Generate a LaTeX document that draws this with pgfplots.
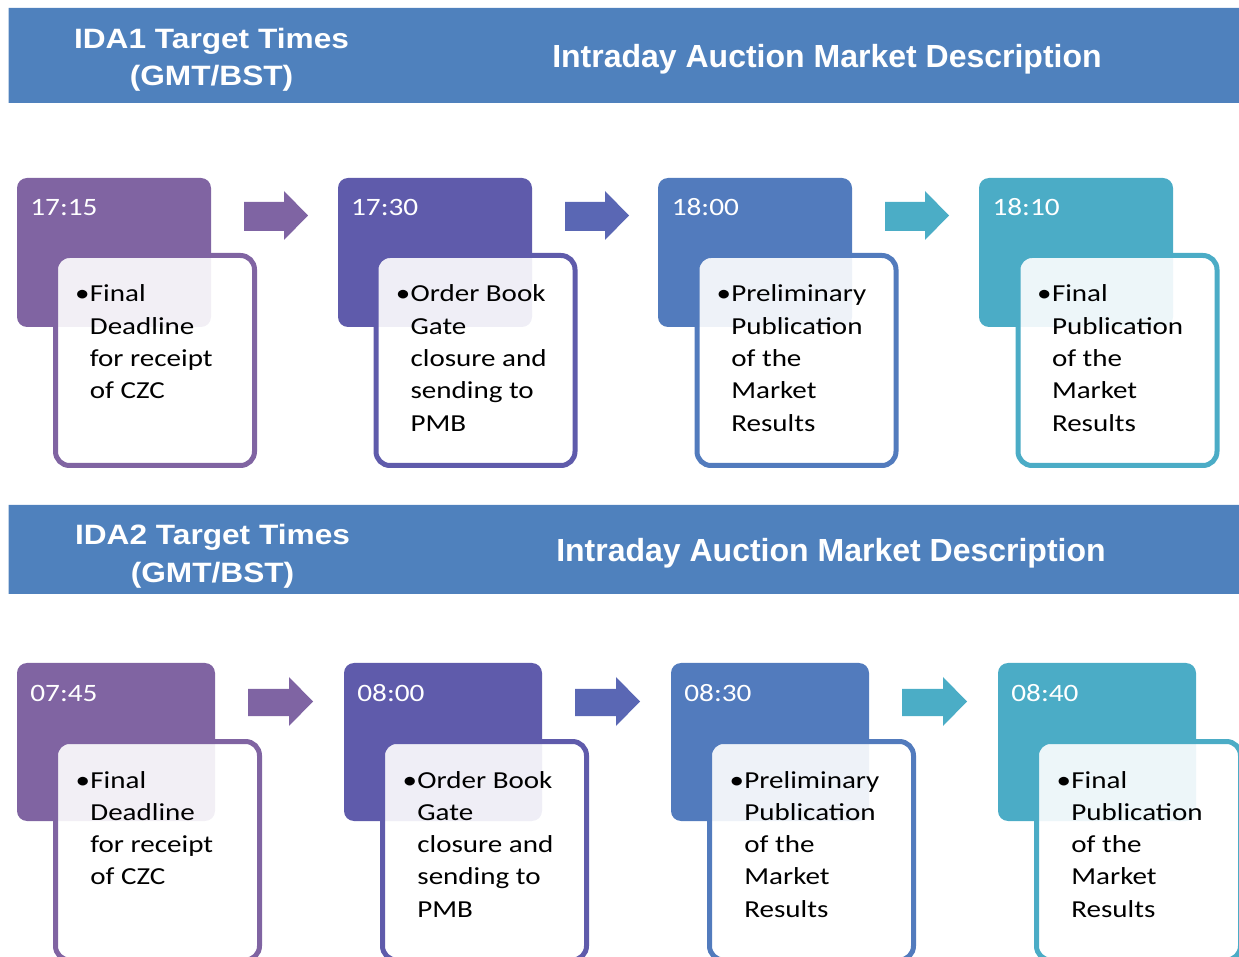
\documentclass[border=0pt]{standalone}
\usepackage{pgfplots}
\pgfplotsset{compat=1.18}
\usepackage{fontspec}
\newfontfamily\bodyf{Carlito}[FakeStretch=1.19]
\newfontfamily\timef{Carlito}[FakeStretch=1.17]
\newfontfamily\headf{Liberation Sans}[FakeStretch=1.13]
\newfontfamily\headg{Liberation Sans}
\newcommand\bodyfont{\bodyf\fontsize{12.2}{16.15}\selectfont}
\newcommand\timefont{\timef\fontsize{12.5}{15}\selectfont}
\newcommand\headleft{\headf\bfseries\fontsize{14}{17}\selectfont}
\newcommand\headright{\headg\bfseries\fontsize{16}{18}\selectfont}
\definecolor{hdr}{HTML}{4F81BD}
\definecolor{cA}{HTML}{8064A2}
\definecolor{cB}{HTML}{5F5BAB}
\definecolor{cC}{HTML}{527BBD}
\definecolor{cD}{HTML}{4BACC6}
\definecolor{aA}{HTML}{7F64A3}
\definecolor{aB}{HTML}{5A67B4}
\definecolor{aC}{HTML}{4BADC6}
\newcommand\btext[3]{\node[anchor=base west,inner sep=0pt,font=\bodyfont] at (axis cs:#1,#2) {\begin{tabular}[t]{@{}l@{}}#3\end{tabular}};}
\newcommand\bbul[2]{\node[anchor=base east,inner sep=0pt,font=\bodyfont] at (axis cs:#1,#2) {\textbullet};}
\newcommand\ttext[3]{\node[anchor=base west,inner sep=0pt,font=\timefont,text=white] at (axis cs:#1,#2) {#3};}
\begin{document}
\begin{tikzpicture}
\begin{axis}[
  scale only axis, width=619.5pt, height=478.5pt,
  xmin=0, xmax=1239, ymin=0, ymax=957, y dir=reverse,
  hide axis, clip=true, no markers,
]
% header bars
\addplot[fill=hdr, draw=none] coordinates {(8.5,8) (1239,8) (1239,103) (8.5,103) (8.5,8)};
\addplot[fill=hdr, draw=none] coordinates {(8.5,505) (1239,505) (1239,594) (8.5,594) (8.5,505)};
% dark boxes row 1
\addplot[fill=cA, draw=none, rounded corners=5pt] coordinates {(37,178) (211,178) (211,327) (17,327) (17,178) (37,178)};
\addplot[fill=cB, draw=none, rounded corners=5pt] coordinates {(358,178) (532,178) (532,327) (338,327) (338,178) (358,178)};
\addplot[fill=cC, draw=none, rounded corners=5pt] coordinates {(678,178) (852,178) (852,327) (658,327) (658,178) (678,178)};
\addplot[fill=cD, draw=none, rounded corners=5pt] coordinates {(999,178) (1173,178) (1173,327) (979,327) (979,178) (999,178)};
% dark boxes row 2
\addplot[fill=cA, draw=none, rounded corners=5pt] coordinates {(37,663) (215,663) (215,821) (17,821) (17,663) (37,663)};
\addplot[fill=cB, draw=none, rounded corners=5pt] coordinates {(364,663) (542,663) (542,821) (344,821) (344,663) (364,663)};
\addplot[fill=cC, draw=none, rounded corners=5pt] coordinates {(691,663) (869,663) (869,821) (671,821) (671,663) (691,663)};
\addplot[fill=cD, draw=none, rounded corners=5pt] coordinates {(1018,663) (1196,663) (1196,821) (998,821) (998,663) (1018,663)};
% arrows row 1
\addplot[fill=aA, draw=none] coordinates {(244,202) (284,202) (284,191) (308,215.5) (284,240) (284,231) (244,231) (244,202)};
\addplot[fill=aB, draw=none] coordinates {(565,202) (605,202) (605,191) (629,215.5) (605,240) (605,231) (565,231) (565,202)};
\addplot[fill=aC, draw=none] coordinates {(885,202) (925,202) (925,191) (949,215.5) (925,240) (925,231) (885,231) (885,202)};
% arrows row 2
\addplot[fill=aA, draw=none] coordinates {(248,689) (289,689) (289,677) (313,701.5) (289,726) (289,716) (248,716) (248,689)};
\addplot[fill=aB, draw=none] coordinates {(575,689) (616,689) (616,677) (640,701.5) (616,726) (616,716) (575,716) (575,689)};
\addplot[fill=aC, draw=none] coordinates {(902,689) (943,689) (943,677) (967,701.5) (943,726) (943,716) (902,716) (902,689)};
% white boxes row 1
\addplot[fill=white, fill opacity=0.9, draw=cA, line width=2.5pt, rounded corners=7pt] coordinates {(75.5,255.5) (254.5,255.5) (254.5,465.5) (55.5,465.5) (55.5,255.5) (75.5,255.5)};
\addplot[fill=white, fill opacity=0.9, draw=cB, line width=2.5pt, rounded corners=7pt] coordinates {(396,255.5) (575,255.5) (575,465.5) (376,465.5) (376,255.5) (396,255.5)};
\addplot[fill=white, fill opacity=0.9, draw=cC, line width=2.5pt, rounded corners=7pt] coordinates {(717,255.5) (896,255.5) (896,465.5) (697,465.5) (697,255.5) (717,255.5)};
\addplot[fill=white, fill opacity=0.9, draw=cD, line width=2.5pt, rounded corners=7pt] coordinates {(1038,255.5) (1217,255.5) (1217,465.5) (1018,465.5) (1018,255.5) (1038,255.5)};
% white boxes row 2
\addplot[fill=white, fill opacity=0.9, draw=cA, line width=2.5pt, rounded corners=7pt] coordinates {(75.5,741.5) (259.5,741.5) (259.5,960) (55.5,960) (55.5,741.5) (75.5,741.5)};
\addplot[fill=white, fill opacity=0.9, draw=cB, line width=2.5pt, rounded corners=7pt] coordinates {(402.5,741.5) (586.5,741.5) (586.5,960) (382.5,960) (382.5,741.5) (402.5,741.5)};
\addplot[fill=white, fill opacity=0.9, draw=cC, line width=2.5pt, rounded corners=7pt] coordinates {(729.5,741.5) (913.5,741.5) (913.5,960) (709.5,960) (709.5,741.5) (729.5,741.5)};
\addplot[fill=white, fill opacity=0.9, draw=cD, line width=2.5pt, rounded corners=7pt] coordinates {(1056.5,741.5) (1240.5,741.5) (1240.5,960) (1036.5,960) (1036.5,741.5) (1056.5,741.5)};
% header texts
\node[font=\headleft, text=white, anchor=base, inner sep=0pt] at (axis cs:211.5,49) {IDA1 Target Times};
\node[font=\headleft, text=white, anchor=base, inner sep=0pt] at (axis cs:211.5,86) {(GMT/BST)};
\node[font=\headright, text=white, anchor=base, inner sep=0pt] at (axis cs:827,68) {Intraday Auction Market Description};
\node[font=\headleft, text=white, anchor=base, inner sep=0pt] at (axis cs:212.5,545) {IDA2 Target Times};
\node[font=\headleft, text=white, anchor=base, inner sep=0pt] at (axis cs:212.5,582) {(GMT/BST)};
\node[font=\headright, text=white, anchor=base, inner sep=0pt] at (axis cs:831,562) {Intraday Auction Market Description};
% times
\ttext{30}{216}{17:15}
\ttext{350.7}{216}{17:30}
\ttext{671.4}{216}{18:00}
\ttext{992.1}{216}{18:10}
\ttext{30}{702}{07:45}
\ttext{357}{702}{08:00}
\ttext{684}{702}{08:30}
\ttext{1011}{702}{08:40}
% body row 1
\bbul{90}{302}\btext{89.5}{302}{Final\\Deadline\\for receipt\\of CZC}
\bbul{410.7}{302}\btext{410.2}{302}{Order Book\\Gate\\closure and\\sending to\\PMB}
\bbul{731.4}{302}\btext{730.9}{302}{Preliminary\\Publication\\of the\\Market\\Results}
\bbul{1052.1}{302}\btext{1051.6}{302}{Final\\Publication\\of the\\Market\\Results}
% body row 2
\bbul{90.5}{788}\btext{90}{788}{Final\\Deadline\\for receipt\\of CZC}
\bbul{417.5}{788}\btext{417}{788}{Order Book\\Gate\\closure and\\sending to\\PMB}
\bbul{744.5}{788}\btext{744}{788}{Preliminary\\Publication\\of the\\Market\\Results}
\bbul{1071.5}{788}\btext{1071}{788}{Final\\Publication\\of the\\Market\\Results}
\end{axis}
\pgfresetboundingbox
\path (current axis.south west) rectangle (current axis.north east);
\end{tikzpicture}
\end{document}
